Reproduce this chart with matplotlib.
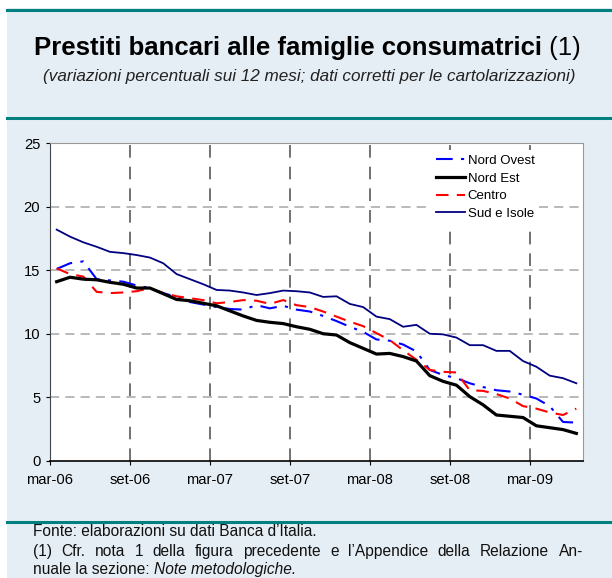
import matplotlib
matplotlib.use("Agg")
import matplotlib.pyplot as plt
from matplotlib.lines import Line2D

plt.rcParams['font.family'] = ['Liberation Sans', 'DejaVu Sans']

# monthly observations, mar-06 .. jun-09
months = ["mar-06", "apr-06", "mag-06", "giu-06", "lug-06", "ago-06", "set-06", "ott-06", "nov-06", "dic-06",
          "gen-07", "feb-07", "mar-07", "apr-07", "mag-07", "giu-07", "lug-07", "ago-07", "set-07", "ott-07",
          "nov-07", "dic-07", "gen-08", "feb-08", "mar-08", "apr-08", "mag-08", "giu-08", "lug-08", "ago-08",
          "set-08", "ott-08", "nov-08", "dic-08", "gen-09", "feb-09", "mar-09", "apr-09", "mag-09", "giu-09"]

nord_ovest = [15.1, 15.55, 15.7, 14.3, 14.2, 14.1, 13.8, 13.6, 13.2, 12.9,
              12.5, 12.3, 12.1, 11.95, 11.9, 12.25, 12.0, 12.2, 11.9, 11.75,
              11.4, 11.0, 10.55, 10.15, 9.55, 9.45, 9.15, 8.6, 7.15, 6.75,
              6.5, 6.1, 5.8, 5.55, 5.45, 5.2, 4.9, 4.3, 3.05, 3.0]
nord_est = [14.1, 14.45, 14.3, 14.25, 14.05, 13.9, 13.6, 13.6, 13.15, 12.7,
            12.6, 12.4, 12.2, 11.8, 11.4, 11.05, 10.9, 10.8, 10.55, 10.35,
            10.0, 9.9, 9.3, 8.85, 8.4, 8.45, 8.2, 7.85, 6.7, 6.25,
            5.95, 5.05, 4.4, 3.6, 3.5, 3.4, 2.75, 2.6, 2.45, 2.15]
centro = [15.15, 14.7, 14.5, 13.3, 13.2, 13.25, 13.35, 13.6, 13.2, 12.95,
          12.8, 12.65, 12.4, 12.5, 12.65, 12.6, 12.35, 12.65, 12.25, 12.1,
          11.75, 11.35, 10.95, 10.6, 10.05, 9.5, 8.7, 7.95, 7.15, 7.0,
          6.95, 5.55, 5.5, 5.25, 4.9, 4.3, 4.1, 3.8, 3.6, 4.1]
sud_isole = [18.2, 17.65, 17.2, 16.85, 16.45, 16.35, 16.2, 16.0, 15.55, 14.7,
             14.3, 13.9, 13.45, 13.4, 13.25, 13.05, 13.2, 13.4, 13.35, 13.25,
             12.9, 12.95, 12.35, 12.1, 11.35, 11.15, 10.55, 10.7, 10.0, 9.95,
             9.7, 9.1, 9.1, 8.65, 8.65, 7.85, 7.4, 6.7, 6.5, 6.1]

tick_labels = ["mar-06", "set-06", "mar-07", "set-07", "mar-08", "set-08", "mar-09"]

bg = "#E6EEF5"
teal = "#00807F"
W, H = 612, 578

fig = plt.figure(figsize=(6.12, 5.78), dpi=100, facecolor="white")

def fx(px):
    return px / W

def fy(py):
    return 1 - py / H

# light blue panel, leaving a thin white margin top and left
fig.patches.append(plt.Rectangle((fx(7), 0), 1, fy(8), transform=fig.transFigure,
                                 facecolor=bg, edgecolor="none", zorder=-5))
for ypx in (9.5, 117.5, 521.5):
    fig.add_artist(Line2D([fx(7), 1], [fy(ypx)] * 2, color=teal, lw=2.2, zorder=-1))

# title: bold part + normal "(1)"
renderer = fig.canvas.get_renderer()
t1 = fig.text(0, fy(54.5), "Prestiti bancari alle famiglie consumatrici", fontsize=18.5,
              fontweight="bold", va="baseline", ha="left")
t2 = fig.text(0, fy(54.5), " (1)", fontsize=18.5, va="baseline", ha="left")
w1 = t1.get_window_extent(renderer).width
w2 = t2.get_window_extent(renderer).width
x0 = 307.5 - (w1 + w2) / 2
t1.set_x(fx(x0))
t2.set_x(fx(x0 + w1))
fig.text(fx(309), fy(77),
         "(variazioni percentuali sui 12 mesi; dati corretti per le cartolarizzazioni)",
         fontsize=12.3, style="italic", ha="center", va="center", color="#222222")

ax = fig.add_axes([fx(50), fy(460.7), 533 / W, 317.4 / H])
ax.set_facecolor("white")
x = [i + 0.5 for i in range(len(months))]

ax.plot(x, nord_ovest, color="#0000FF", lw=1.5, dashes=(8, 4, 1.5, 4), label="Nord Ovest", zorder=3)
ax.plot(x, nord_est, color="black", lw=2.3, label="Nord Est", zorder=4)
ax.plot(x, centro, color="#FF0000", lw=1.5, dashes=(6, 4), label="Centro", zorder=3)
ax.plot(x, sud_isole, color="#000080", lw=1.3, label="Sud e Isole", zorder=3)

ax.set_xlim(0, len(months))
ax.set_ylim(0, 25)
ax.set_xticks(range(0, 37, 6))
ax.set_xticklabels(tick_labels, fontsize=10.6)
ax.set_yticks(range(0, 26, 5))
ax.tick_params(axis="y", labelsize=10.6, length=3, direction="out", pad=4)
ax.tick_params(axis="x", length=3, direction="out", pad=5.5)

for yv in (5, 10, 15, 20):
    ax.axhline(yv, color="#A6A6A6", lw=1.1, dashes=(6, 4), zorder=1)
for xv in range(6, 37, 6):
    ax.axvline(xv, color="#666666", lw=1.3, dashes=(7, 5), zorder=1)

ax.spines["left"].set_color("#444444")
ax.spines["bottom"].set_color("black")
ax.spines["bottom"].set_linewidth(1.2)
ax.spines["top"].set_color("#999999")
ax.spines["right"].set_color("#999999")

leg = ax.legend(loc="upper left", bbox_to_anchor=(0.703, 1.0), fontsize=9.5, frameon=True,
                framealpha=1, facecolor="white", edgecolor="none", fancybox=False,
                handlelength=2.2, handletextpad=0.2, labelspacing=0.42, borderpad=0.35)
leg.set_zorder(5)

# footnotes (baseline aligned)
fs = 11.2
col = "#111111"
fig.text(fx(33), fy(536), "Fonte: elaborazioni su dati Banca d\u2019Italia.", fontsize=fs,
         va="baseline", ha="left", color=col)

# justified line: spread the words between 33 and 583 px
words = "(1) Cfr. nota 1 della figura precedente e l\u2019Appendice della Relazione An-".split()
wtexts = [fig.text(0, fy(556), w, fontsize=fs, va="baseline", ha="left", color=col) for w in words]
widths = [t.get_window_extent(renderer).width for t in wtexts]
gap = (583 - 33 - sum(widths)) / (len(words) - 1)
xpos = 33
for t, w in zip(wtexts, widths):
    t.set_x(fx(xpos))
    xpos += w + gap

n1 = fig.text(fx(33), fy(574), "nuale la sezione: ", fontsize=fs, va="baseline", ha="left", color=col)
wn = n1.get_window_extent(renderer).width
fig.text(fx(33 + wn), fy(574), "Note metodologiche.", fontsize=fs, style="italic",
         va="baseline", ha="left", color=col)

fig.savefig("out.png", dpi=100, facecolor="white")
